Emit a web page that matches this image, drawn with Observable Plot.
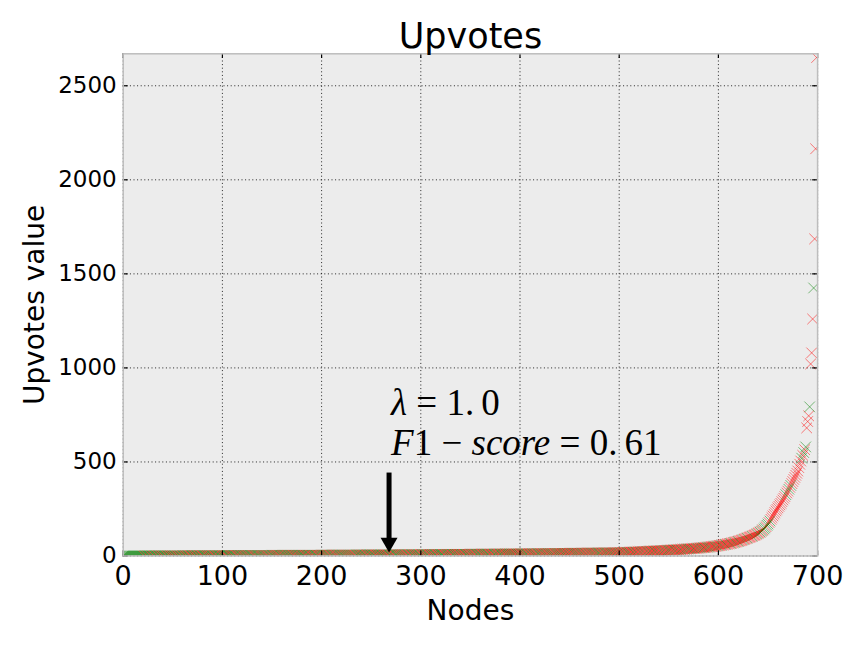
<!DOCTYPE html>
<html>
<head>
<meta charset="utf-8">
<script src="https://cdn.jsdelivr.net/npm/d3@7"></script>
<script src="https://cdn.jsdelivr.net/npm/@observablehq/plot@0.6"></script>
<style>
  html, body { margin: 0; padding: 0; background: #ffffff; }
  #chart { width: 864px; height: 648px; }
</style>
</head>
<body>
<div id="chart"></div>
<script>
// ---- data ----
const xTicks = [0, 100, 200, 300, 400, 500, 600, 700];
const yTicks = [0, 500, 1000, 1500, 2000, 2500];

// nodes 0-499, sorted upvotes as [value, count] runs
const lowRuns = [
  [0, 22], [1, 38], [2, 45], [3, 45], [4, 50],
  [5, 35], [6, 35], [7, 30],
  [8, 25], [9, 25], [10, 25], [11, 25],
  [12, 17], [13, 17], [14, 17], [15, 17], [16, 16], [17, 16]
];

// nodes 500-699, sorted upvotes
const highValues = [
  18, 18, 18, 19, 19, 19, 19, 20, 20, 20,
  20, 21, 21, 21, 21, 22, 22, 22, 22, 23,
  23, 23, 23, 24, 24, 24, 24, 25, 25, 25,
  25, 26, 26, 26, 26, 27, 27, 27, 28, 28,
  28, 28, 29, 29, 29, 30, 30, 30, 30, 31,
  31, 31, 32, 32, 32, 33, 33, 33, 34, 34,
  34, 35, 35, 35, 36, 36, 36, 37, 37, 38,
  38, 38, 39, 39, 40, 40, 40, 41, 41, 42,
  42, 43, 43, 44, 44, 45, 45, 46, 47, 47,
  48, 48, 49, 50, 50, 51, 52, 52, 53, 54,
  55, 56, 57, 58, 59, 60, 61, 62, 63, 64,
  65, 66, 67, 68, 70, 71, 72, 74, 75, 77,
  78, 80, 81, 83, 85, 87, 89, 91, 93, 95,
  97, 99, 101, 103, 105, 108, 110, 112, 115, 118,
  121, 124, 127, 131, 135, 139, 144, 150, 156, 163,
  170, 178, 186, 195, 204, 213, 222, 231, 240, 248,
  256, 264, 272, 280, 289, 298, 307, 316, 326, 335,
  345, 355, 365, 375, 385, 396, 407, 418, 429, 440,
  452, 470, 488, 505, 520, 535, 550, 565, 580, 681,
  715, 745, 793, 1021, 1080, 1260, 1425, 1686, 2165, 2650
];

// class of each node: r = red, g = green (nodes 0-699 in order)
const nodeClasses = [
  "gggggggggg", "gggggggggg", "grggrgggrg", "grgggrggrg", "rgggrggrgr",
  "grggrgrggr", "ggrgrggrrg", "grgrggrggr", "rgggrgrgrg", "grrggrgggr",
  "grgrrgggrg", "rgggrrgrgg", "rgrggrgrgg", "grrgrgggrg", "rggrgrrggr",
  "ggrgrgrrgg", "rgrggrggrg", "grrgrgrggr", "gggrrgrggr", "rgrgggrrgr",
  "grgrgrggrr", "ggrgrrgrgg", "rggrgrgrgr", "grgrrggrgg", "rgrggrrgrg",
  "grggrrgrgr", "ggrgrgrrgg", "rgrrgggrgr", "grgrgrrggr", "rggrgrgrgg",
  "rrgrgrggrr", "grgrggrrgr", "gggrrgrgrg", "rrggrgrgrr", "grgrrggrgr",
  "rgrgrrggrg", "grrgrgrggr", "rgrrggrgrr", "ggrgrrgrgr", "grgrgrrgrg",
  "rrgrgrggrr", "grrgrgrrgg", "rgrrgrgrrg", "rgrgrrgrgr", "grrgrgrrgr",
  "rgrrgrgrgr", "rgrgrrgrrg", "rrgrgrrgrg", "grrgrrgrgr", "rgrgrrgrrg",
  "rrgrrgrrgr", "grrrgrrgrr", "rgrrgrrrgr", "rgrrrgrrgr", "rrgrrgrrrg",
  "rgrrrgrrgr", "rrgrrrgrrg", "rgrrrgrrrg", "rrgrrgrrrg", "rgrrrrgrrg",
  "rrrgrrrgrr", "rrgrrrgrrr", "grrrrgrrrg", "rrrrgrrrrg", "rrgrgrggrg",
  "grgrrrrrrr", "rrrrrrrrgr", "rgrgrrrrrr", "rrrrgrgrgr", "rrgrrrgrrr"
].join("");

// annotation
const annotX = 270;
const annotLambdaY = 747;
const annotF1Y = 535;
const arrowX = 268;
const arrowTop = 441;
const arrowHeadY = 71;

// ---- build table ----
const upvotes = [];
for (const [v, n] of lowRuns) for (let k = 0; k < n; k++) upvotes.push(v);
for (const v of highValues) upvotes.push(v);
const points = upvotes.map((v, i) => ({i, v, c: nodeClasses[i]}));

const gridStyle = {stroke: "#000", strokeOpacity: 0.85, strokeWidth: 1, strokeDasharray: "1,2.6"};

const plot = Plot.plot({
  width: 864,
  height: 648,
  marginLeft: 122.7,
  marginRight: 46.9,
  marginTop: 53.3,
  marginBottom: 92.5,
  style: {fontFamily: "DejaVu Sans", background: "#ffffff", color: "#000", overflow: "visible"},
  x: {domain: [0, 700], ticks: xTicks},
  y: {domain: [0, 2670], ticks: yTicks, axis: null},
  marks: [
    Plot.frame({fill: "#ececec", stroke: null}),
    Plot.gridX(xTicks, gridStyle),
    Plot.gridY(yTicks, gridStyle),
    Plot.dot(points, {
      x: "i", y: "v", symbol: "times", r: 4.9,
      stroke: d => d.c === "r" ? "#ff0000" : "#008000",
      strokeOpacity: 0.5, strokeWidth: 1, clip: true
    }),
    // inward tick marks on all four sides
    Plot.ruleX(xTicks, {x: d => d, y1: 0, y2: 25, stroke: "#000", strokeWidth: 1.2}),
    Plot.ruleX(xTicks, {x: d => d, y1: 2645, y2: 2670, stroke: "#000", strokeWidth: 1.2}),
    Plot.ruleY(yTicks, {y: d => d, x1: 0, x2: 5, stroke: "#000", strokeWidth: 1.2}),
    Plot.ruleY(yTicks, {y: d => d, x1: 695, x2: 700, stroke: "#000", strokeWidth: 1.2}),
    Plot.frame({stroke: "#bdbdbd", strokeWidth: 1.5}),
    Plot.axisX(xTicks, {tickSize: 0, tickPadding: 10, fontSize: 27, label: null, tickFormat: d => String(d)}),
    // y tick labels
    Plot.text(yTicks, {x: 0, y: d => d, text: d => String(d), textAnchor: "end", dx: -6.5,
      fontSize: 23, fill: "#000"}),
    // arrow
    Plot.ruleX([arrowX], {x: d => d, y1: arrowTop, y2: arrowHeadY, stroke: "#000", strokeWidth: 5}),
    Plot.dot([arrowX], {x: d => d, y: arrowHeadY, symbol: "triangle", r: 6.3, rotate: 180, fill: "#000", stroke: null}),
    // annotation text
    Plot.text(["λ = 1.0"], {x: annotX, y: annotLambdaY, textAnchor: "start", lineAnchor: "bottom",
      fontFamily: "Liberation Serif", fontSize: 37}),
    Plot.text(["F1 − score = 0.61"], {x: annotX, y: annotF1Y, textAnchor: "start", lineAnchor: "bottom",
      fontFamily: "Liberation Serif", fontSize: 37}),
    // titles
    Plot.text(["Upvotes"], {frameAnchor: "top", dy: -6, lineAnchor: "bottom", fontSize: 35}),
    Plot.text(["Nodes"], {frameAnchor: "bottom", dy: 64, lineAnchor: "bottom", fontSize: 28}),
    Plot.text(["Upvotes value"], {frameAnchor: "left", dx: -79, rotate: -90, textAnchor: "middle", lineAnchor: "bottom", fontSize: 28})
  ]
});

document.getElementById("chart").appendChild(plot);

// math-style annotation: italic letters, upright digits/operators
const mathParts = {
  "λ = 1.0": [["λ", true], [" = ", false], ["1.", false], ["0", false, 7]],
  "F1 − score = 0.61": [["F", true], ["1", false], [" − ", false], ["score", true], [" = ", false], ["0.", false], ["61", false, 7]]
};
d3.select(plot).selectAll("text").each(function () {
  const key = this.textContent;
  const parts = mathParts[key];
  if (!parts) return;
  const t = d3.select(this);
  t.text(null);
  for (const [s, it, dx] of parts) {
    const sp = t.append("tspan").text(s).attr("font-style", it ? "italic" : "normal").attr("xml:space", "preserve");
    if (dx) sp.attr("dx", dx);
  }
  t.attr("xml:space", "preserve");
});
</script>
</body>
</html>
